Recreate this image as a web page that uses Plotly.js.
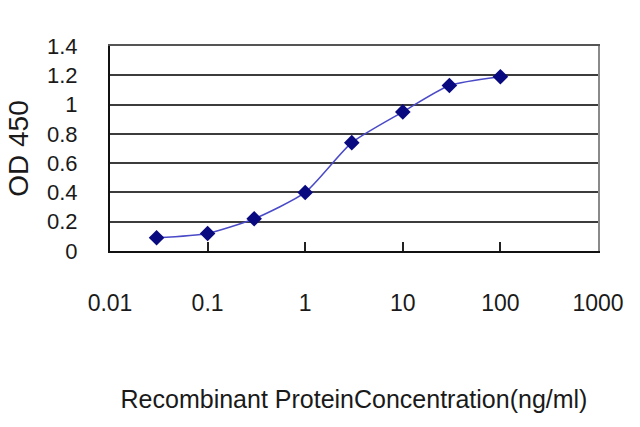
<!DOCTYPE html>
<html>
<head>
<meta charset="utf-8">
<script src="https://cdn.plot.ly/plotly-3.0.1.min.js"></script>
<style>
  html, body { margin: 0; padding: 0; background: #fff; }
  #chart { width: 640px; height: 427px; }
</style>
</head>
<body>
<div id="chart"></div>
<script>
// concentration (ng/ml) and OD 450 readings
var concentration = [0.03, 0.1, 0.3, 1, 3, 10, 30, 100];
var od450 = [0.09, 0.12, 0.22, 0.40, 0.74, 0.95, 1.13, 1.19];

var xTicks = [0.01, 0.1, 1, 10, 100, 1000];
var xTickText = ['0.01', '0.1', '1', '10', '100', '1000'];
var yTicks = [0, 0.2, 0.4, 0.6, 0.8, 1, 1.2, 1.4];
var yTickText = ['0', '0.2', '0.4', '0.6', '0.8', '1', '1.2', '1.4'];

var fontFam = '"Liberation Sans", Arial, sans-serif';

var curve = {
  x: concentration,
  y: od450,
  type: 'scatter',
  mode: 'lines+markers',
  line: {color: '#4a4ac8', width: 1.5, shape: 'spline', smoothing: 0.6},
  marker: {symbol: 'diamond', size: 12, color: '#0a0a80'},
  showlegend: false
};

// empty trace so the grey top and right borders get drawn
var border = {
  x: [], y: [], type: 'scatter', xaxis: 'x2', yaxis: 'y2', showlegend: false, hoverinfo: 'skip'
};

var layout = {
  width: 640,
  height: 427,
  margin: {l: 110, r: 42, t: 46, b: 176},
  paper_bgcolor: '#ffffff',
  plot_bgcolor: '#ffffff',
  font: {family: fontFam, color: '#1a1a1a'},
  xaxis: {
    type: 'log',
    range: [-2, 3],
    tickvals: xTicks,
    ticktext: xTickText,
    showgrid: false,
    zeroline: false,
    showline: true,
    linecolor: '#111',
    linewidth: 2,
    ticks: 'inside',
    ticklen: 9,
    tickwidth: 2,
    tickcolor: '#222',
    ticklabelstandoff: 30,
    tickfont: {size: 23, color: '#1a1a1a'},
    title: {text: 'Recombinant ProteinConcentration(ng/ml)', font: {size: 25, color: '#1a1a1a'}, standoff: 76}
  },
  xaxis2: {
    overlaying: 'x',
    side: 'top',
    type: 'log',
    range: [-2, 3],
    showgrid: false,
    zeroline: false,
    showticklabels: false,
    showline: true,
    linecolor: '#555',
    linewidth: 2
  },
  yaxis: {
    range: [0, 1.4],
    tickvals: yTicks,
    ticktext: yTickText,
    showgrid: true,
    gridcolor: '#3c3c3c',
    gridwidth: 2,
    zeroline: false,
    showline: true,
    linecolor: '#111',
    linewidth: 2,
    ticks: '',
    ticklabelstandoff: 26,
    tickfont: {size: 22, color: '#1a1a1a'},
    title: {text: 'OD 450', font: {size: 28, color: '#1a1a1a'}, standoff: 10}
  },
  yaxis2: {
    overlaying: 'y',
    side: 'right',
    range: [0, 1.4],
    showgrid: false,
    zeroline: false,
    showticklabels: false,
    showline: true,
    linecolor: '#8a8a8a',
    linewidth: 2
  }
};

Plotly.newPlot('chart', [curve, border], layout, {staticPlot: true});
</script>
</body>
</html>
